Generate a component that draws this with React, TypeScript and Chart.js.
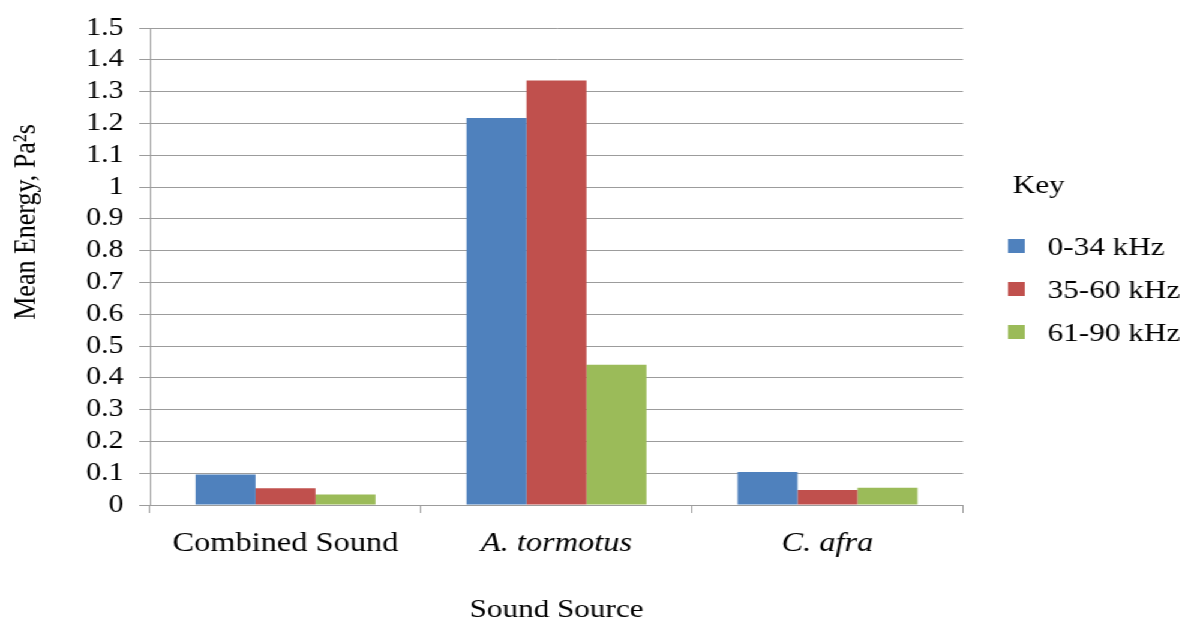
import React, { useEffect, useRef } from "react";
import { Chart, registerables } from "chart.js";

Chart.register(...registerables);

const categories = ["Combined Sound", "A. tormotus", "C. afra"];
const seriesLabels = ["0-34 kHz", "35-60 kHz", "61-90 kHz"];
const band0to34 = [0.096, 1.217, 0.104];
const band35to60 = [0.053, 1.335, 0.047];
const band61to90 = [0.033, 0.441, 0.054];
const seriesColors = ["#4F81BD", "#C0504D", "#9BBB59"];
const yMin = 0;
const yMax = 1.5;
const yStep = 0.1;
const yTitle = "Mean Energy, Pa\u00B2s";
const xTitle = "Sound Source";
const legendTitle = "Key";

const STRETCH = 1.2;
const W = 995;
const H = 623;
const FONT = "'Liberation Serif', 'Times New Roman', serif";
const GRID = "#9c9c9c";

export default function App() {
  const ref = useRef<HTMLCanvasElement | null>(null);

  useEffect(() => {
    const canvas = ref.current;
    if (!canvas) return;

    const extras = {
      id: "extras",
      afterDraw(chart: any) {
        const ctx = chart.ctx;
        ctx.save();
        ctx.fillStyle = "#000";
        // y axis title
        ctx.font = `26px ${FONT}`;
        ctx.save();
        ctx.translate(29, 222);
        ctx.rotate(-Math.PI / 2);
        ctx.textAlign = "center";
        ctx.textBaseline = "alphabetic";
        ctx.fillText(yTitle, 0, 0);
        ctx.restore();
        // legend
        ctx.textAlign = "left";
        ctx.textBaseline = "alphabetic";
        ctx.font = `26px ${FONT}`;
        ctx.fillText(legendTitle, 844, 193);
        chart.data.datasets.forEach((ds: any, i: number) => {
          ctx.fillStyle = ds.backgroundColor;
          ctx.fillRect(840, 239 + 43 * i, 14, 14);
          ctx.fillStyle = "#000";
          ctx.fillText(ds.label, 873, 254.5 + 43 * i);
        });
        ctx.restore();
      },
    };

    const chart = new Chart(canvas, {
      type: "bar",
      data: {
        labels: categories,
        datasets: [
          { label: seriesLabels[0], data: band0to34, backgroundColor: seriesColors[0] },
          { label: seriesLabels[1], data: band35to60, backgroundColor: seriesColors[1] },
          { label: seriesLabels[2], data: band61to90, backgroundColor: seriesColors[2] },
        ],
      },
      options: {
        responsive: false,
        animation: false,
        devicePixelRatio: 1,
        color: "#000",
        layout: { padding: { top: 21, right: 192.5, bottom: 0, left: 0 } },
        datasets: {
          bar: { categoryPercentage: 0.664, barPercentage: 1, borderWidth: 0 },
        },
        plugins: {
          legend: { display: false },
          tooltip: { enabled: false },
        },
        scales: {
          x: {
            grid: {
              display: true,
              drawOnChartArea: false,
              drawTicks: true,
              tickLength: 8,
              color: GRID,
              offset: true,
            },
            border: { display: true, color: GRID },
            ticks: {
              color: "#000",
              padding: 15,
              font: (c: any) => ({
                family: FONT,
                size: 27,
                style: c.index === 0 ? "normal" : "italic",
              }),
            },
            title: {
              display: true,
              text: xTitle,
              color: "#000",
              font: { family: FONT, size: 26, lineHeight: 1 },
              padding: { top: 0, bottom: 0 },
            },
            afterFit: (s: any) => {
              s.height = 118;
            },
          },
          y: {
            min: yMin,
            max: yMax,
            grid: { color: GRID, tickLength: 9, drawTicks: true },
            border: { display: true, color: GRID },
            ticks: {
              stepSize: yStep,
              autoSkip: false,
              color: "#000",
              padding: 13,
              font: { family: FONT, size: 25 },
              callback: (v: any) => Number(v).toFixed(1).replace(/\.0$/, ""),
            },
            afterFit: (s: any) => {
              s.width = 125;
            },
          },
        },
      },
      plugins: [extras],
    });

    return () => chart.destroy();
  }, []);

  return (
    <div
      style={{
        position: "fixed",
        left: 0,
        top: 0,
        width: W,
        height: H,
        transform: `scaleX(${STRETCH})`,
        transformOrigin: "0 0",
        background: "#fff",
      }}
    >
      <canvas ref={ref} width={W} height={H} style={{ display: "block" }} />
    </div>
  );
}
